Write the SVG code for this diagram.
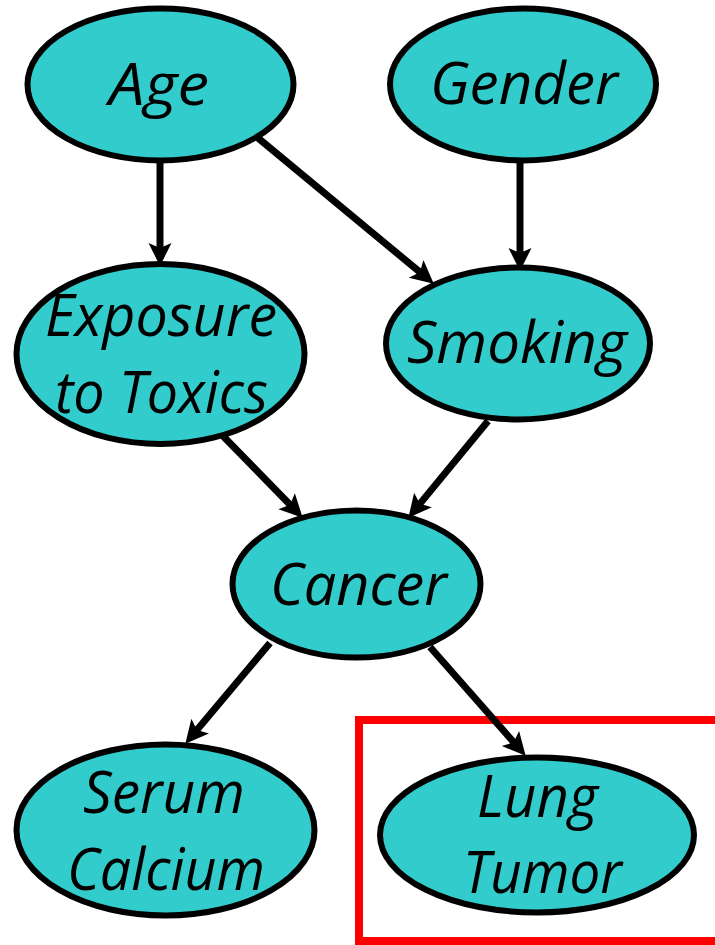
<svg xmlns="http://www.w3.org/2000/svg" width="715" height="945" viewBox="0 0 715 945">
<style>
  .node ellipse { fill: #33CCCC; stroke: #000; stroke-width: 6; }
  .node text { font-family: "Open Sans", "Noto Sans", "Liberation Sans", sans-serif; font-style: italic; font-size: 59px; fill: #000; text-anchor: middle; }
  .edges line { stroke: #000; stroke-width: 7; marker-end: url(#arrow); }
  .highlight { fill: none; stroke: #FF0000; stroke-width: 8; }
</style>
<defs>
  <marker id="arrow" markerUnits="userSpaceOnUse" markerWidth="24" markerHeight="24" refX="6" refY="12" orient="auto" overflow="visible">
    <path d="M0,0.5 L23,12 L0,23.5 L5,12 Z" fill="#000"/>
  </marker>
</defs>
<rect width="715" height="945" fill="#fff"/>
<rect class="highlight" x="359" y="720" width="400" height="221"/>
<g class="edges">
  <line x1="160" y1="163" x2="160" y2="249"/>
  <line x1="258" y1="138" x2="420.7" y2="272.8"/>
  <line x1="520" y1="163" x2="520" y2="254"/>
  <line x1="222" y1="435" x2="290.8" y2="505.5"/>
  <line x1="488" y1="421" x2="419.2" y2="504.6"/>
  <line x1="270" y1="643" x2="196.3" y2="730.7"/>
  <line x1="430" y1="647" x2="514.4" y2="743"/>
</g>
<g id="age" class="node">
  <ellipse cx="160.5" cy="84.5" rx="133" ry="76"/>
  <text x="159" y="105" textLength="100" lengthAdjust="spacingAndGlyphs">Age</text>
</g>
<g id="gender" class="node">
  <ellipse cx="523" cy="84.5" rx="133" ry="76"/>
  <text x="524" y="104" textLength="188" lengthAdjust="spacingAndGlyphs">Gender</text>
</g>
<g id="exposure" class="node">
  <ellipse cx="160.5" cy="354" rx="144" ry="90"/>
  <text x="161" y="336" textLength="232" lengthAdjust="spacingAndGlyphs">Exposure</text>
  <text x="161.5" y="413" textLength="213" lengthAdjust="spacingAndGlyphs">to Toxics</text>
</g>
<g id="smoking" class="node">
  <ellipse cx="518" cy="343.5" rx="132" ry="76"/>
  <text x="517" y="363" textLength="220" lengthAdjust="spacingAndGlyphs">Smoking</text>
</g>
<g id="cancer" class="node">
  <ellipse cx="356.5" cy="584" rx="124" ry="73.5"/>
  <text x="358.5" y="605" textLength="177" lengthAdjust="spacingAndGlyphs">Cancer</text>
</g>
<g id="serum-calcium" class="node">
  <ellipse cx="165.5" cy="830" rx="149" ry="85.5"/>
  <text x="164" y="813" textLength="162" lengthAdjust="spacingAndGlyphs">Serum</text>
  <text x="166" y="890" textLength="198" lengthAdjust="spacingAndGlyphs">Calcium</text>
</g>
<g id="lung-tumor" class="node">
  <ellipse cx="537" cy="835" rx="157" ry="77.5"/>
  <text x="537.5" y="817" textLength="121" lengthAdjust="spacingAndGlyphs">Lung</text>
  <text x="542.5" y="893" textLength="159" lengthAdjust="spacingAndGlyphs">Tumor</text>
</g>
</svg>
